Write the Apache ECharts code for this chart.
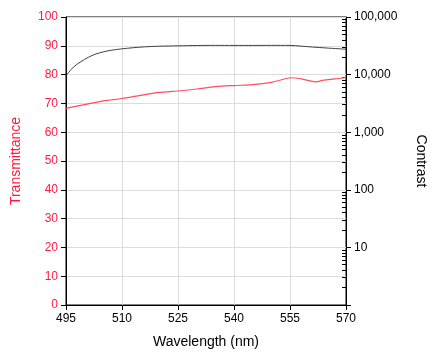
<!DOCTYPE html>
<html><head><meta charset="utf-8">
<script src="https://cdn.jsdelivr.net/npm/echarts@6/dist/echarts.min.js"></script>
<style>html,body{margin:0;padding:0;background:#fff}#c{width:440px;height:360px}</style>
</head><body><div id="c"></div>
<script>
const wavelengthT = [495,500,505,510,515,520,525,530,535,540,545,550,553,555.5,558,562,564,567,570];
const transmittance = [68.3,69.6,70.9,71.7,72.8,73.8,74.3,75.0,75.8,76.2,76.5,77.3,78.3,78.9,78.5,77.5,78.1,78.5,79.0];
const wavelengthC = [495,497,499,501,503,505,507,510,513,516,520,525,530,535,540,545,550,555,558,561,565,570];
const contrast = [9600,13500,16800,20000,22800,24800,26400,28000,29300,30300,31100,31600,32000,32200,32100,32100,32200,32100,31200,30100,28900,27600];
const minorTicks = [];
[1,10,100,1000,10000].forEach(d => { for (let k = 2; k <= 9; k++) minorTicks.push(d*k); });

const font = 'Liberation Sans, Arial, sans-serif';
const chart = echarts.init(document.getElementById('c'), null, {renderer:'canvas'});
chart.setOption({
  animation: false,
  grid: {left:66, right:94, top:17, bottom:55, show:true, borderColor:'#000', borderWidth:1, backgroundColor:'transparent'},
  xAxis: {
    type:'value', min:495, max:570, interval:15,
    name:'Wavelength (nm)', nameLocation:'middle', nameGap:30,
    nameTextStyle:{color:'#000', fontSize:14, fontFamily:font},
    axisLine:{lineStyle:{color:'#000'}},
    axisTick:{length:5, lineStyle:{color:'#000'}},
    axisLabel:{color:'#000', fontSize:12, fontFamily:font, margin:8},
    splitLine:{show:true, lineStyle:{color:'#dcdcdc'}}
  },
  yAxis: [
    {
      type:'value', min:0, max:100, interval:10, position:'left',
      name:'Transmittance', nameLocation:'middle', nameGap:43,
      nameTextStyle:{color:'#ff1a40', fontSize:14, fontFamily:font},
      axisLine:{show:true, lineStyle:{color:'#000'}},
      axisTick:{show:true, length:5, lineStyle:{color:'#000'}},
      axisLabel:{color:'#ff1a40', fontSize:12, fontFamily:font, margin:8},
      splitLine:{show:true, lineStyle:{color:'#dcdcdc'}}
    },
    {
      type:'log', logBase:10, min:1, max:100000, position:'right',
      name:'Contrast', nameLocation:'middle', nameGap:68, nameRotate:-90,
      nameTextStyle:{color:'#000', fontSize:14, fontFamily:font},
      axisLine:{show:true, lineStyle:{color:'#000'}},
      axisTick:{show:true, length:5, lineStyle:{color:'#000'}},
      axisLabel:{color:'#000', fontSize:12, fontFamily:font, margin:8,
        formatter: v => v === 1 ? '' : Math.round(v).toLocaleString('en-US')},
      splitLine:{show:false}
    },
    {
      type:'log', logBase:10, min:1, max:100000, position:'right',
      axisLine:{show:false},
      axisTick:{show:true, inside:true, length:4, customValues:minorTicks, lineStyle:{color:'#000'}},
      axisLabel:{show:false},
      splitLine:{show:false}
    }
  ],
  series: [
    {
      type:'line', yAxisIndex:1, showSymbol:false, smooth:0.3,
      data: wavelengthC.map((w,i)=>[w, contrast[i]]),
      lineStyle:{color:'#404040', width:1}
    },
    {
      type:'line', yAxisIndex:0, showSymbol:false, smooth:0.3,
      data: wavelengthT.map((w,i)=>[w, transmittance[i]]),
      lineStyle:{color:'#ff4d5e', width:1.2}
    }
  ]
});
</script></body></html>
